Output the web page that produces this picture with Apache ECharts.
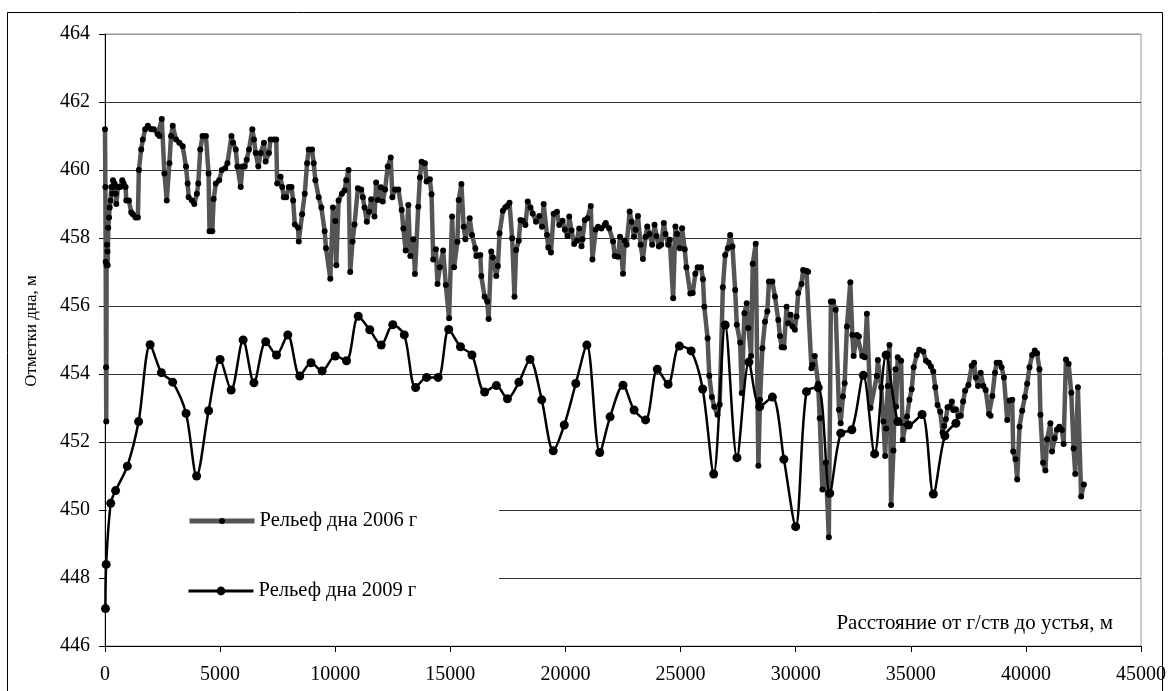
<!DOCTYPE html>
<html>
<head>
<meta charset="utf-8">
<script src="https://cdn.jsdelivr.net/npm/echarts@6/dist/echarts.min.js"></script>
<style>html,body{margin:0;padding:0;background:#fff;}#c{width:1169px;height:691px;}</style>
</head>
<body>
<div id="c"></div>
<script>
var seriesNames = ['Рельеф дна 2006 г', 'Рельеф дна 2009 г'];
var xAxisTitle = 'Расстояние от г/ств до устья, м';
var yAxisTitle = 'Отметки дна, м';
var xTicks = {min: 0, max: 45000, interval: 5000};
var yTicks = {min: 446, max: 464, interval: 2};

var relief2006 = [
[0,461.2],[15,459.5],[30,457.3],[45,454.2],[55,452.6],[70,457.2],[88,457.8],[105,457.6],[117,457.2],[140,458.3],[175,458.6],[203,458.9],[240,459.1],[275,459.5],[318,459.3],[347,459.7],[380,459.5],[419,459.6],[463,459.3],[491,459.0],[564,459.5],[664,459.5],[751,459.7],[809,459.6],[895,459.5],[924,459.1],[1039,459.1],[1140,458.75],[1212,458.7],[1327,458.6],[1428,458.6],
[1471,460.0],[1572,460.6],[1644,460.9],[1745,461.2],[1860,461.3],[2005,461.2],[2120,461.2],[2293,461.05],[2365,461.0],[2466,461.5],[2581,459.9],[2682,459.1],[2797,460.2],[2869,461.0],[2941,461.3],[3085,460.9],[3229,460.8],[3374,460.7],[3518,460.1],[3590,459.6],[3633,459.2],[3777,459.1],[3878,459.0],[3993,459.3],[4051,459.6],[4137,460.6],[4238,461.0],[4383,461.0],[4498,459.9],[4540,458.2],[4660,458.2],
[4720,459.15],[4815,459.6],[4959,459.7],[5074,460.0],[5218,460.05],[5319,460.2],[5492,461.0],[5564,460.8],[5679,460.6],[5751,460.1],[5895,459.5],[5967,460.1],[6068,460.1],[6155,460.3],[6256,460.6],[6400,461.2],[6472,460.9],[6544,460.5],[6659,460.1],[6760,460.5],[6904,460.8],[6976,460.25],[7120,460.5],[7192,460.9],[7336,460.9],[7437,460.9],[7480,459.6],[7625,459.8],[7696,459.5],[7769,459.2],[7870,459.2],[7985,459.5],[8100,459.5],[8172,459.1],[8244,458.4],[8388,458.3],[8417,457.9],[8561,458.7],[8677,459.3],[8778,460.2],[8850,460.6],[8994,460.6],[9066,460.2],[9138,459.7],[9282,459.2],[9397,458.9],[9541,458.2],[9599,457.7],[9786,456.8],[9901,458.9],[10002,458.5],[10046,457.2],[10146,459.1],[10290,459.3],[10406,459.4],[10478,459.7],[10579,460.0],[10651,457.0],[10752,457.9],[10838,458.4],[10984,459.46],[11129,459.43],
[11201,459.2],[11273,458.9],[11374,458.48],[11474,458.77],[11561,459.14],[11705,458.63],[11777,459.63],[11849,459.12],[11979,459.49],[12065,459.07],[12166,459.43],[12281,460.1],[12411,460.37],[12483,459.2],[12598,459.43],[12742,459.43],[12887,458.82],[12959,458.28],[13060,457.63],[13175,458.97],[13261,457.47],[13391,457.96],[13463,456.94],[13607,458.92],[13679,459.78],[13751,460.24],[13895,460.2],[13967,459.66],[14111,459.73],[14184,459.29],[14256,457.37],[14371,457.67],[14443,456.65],[14544,457.14],[14688,457.63],[14803,456.62],[14947,455.64],[15077,458.63],[15163,457.14],[15307,457.89],[15365,459.12],[15480,459.59],[15581,458.33],[15653,457.96],[15840,458.58],[15941,458.09],[16086,457.7],[16129,457.47],[16302,457.5],[16345,456.88],[16489,456.27],[16604,456.13],[16662,455.62],[16777,457.6],[16849,457.43],[16994,456.88],[17066,457.18],[17138,458.14],[17282,458.8],[17383,458.9],[17469,458.94],[17570,459.04],[17685,457.99],[17786,456.27],[17858,457.65],[17973,457.92],[18045,458.53],[18146,458.51],[18261,458.38],[18362,459.07],[18478,458.9],[18578,458.72],[18722,458.48],[18866,458.65],[18982,458.33],[19054,459.0],[19198,458.09],[19256,457.72],[19371,457.57],[19486,458.71],[19630,458.77],[19731,458.38],[19875,458.51],[19976,458.24],[20092,458.06],[20164,458.63],[20264,458.22],[20380,457.82],[20495,457.92],[20596,458.28],[20697,457.76],[20740,457.96],[20841,458.53],[20956,458.58],[21100,458.94],[21172,457.37],[21316,458.25],[21417,458.33],[21561,458.28],[21705,458.38],
[21751,458.44],[21895,458.29],[22068,457.9],[22140,457.47],[22284,457.45],[22371,458.04],[22501,456.95],[22573,457.93],[22659,457.8],[22789,458.78],[22875,458.48],[22976,458.04],[23048,458.24],[23149,458.65],[23264,457.8],[23365,457.38],[23480,458.04],[23553,458.34],[23653,458.12],[23769,457.8],[23870,458.39],[23956,458.06],[24057,457.75],[24158,457.8],[24273,458.44],[24345,458.12],[24460,457.8],[24532,457.95],[24677,456.23],[24777,458.34],[24849,458.12],[24965,457.7],[25066,458.29],[25181,457.67],[25253,457.14],[25424,456.37],[25527,456.38],[25642,456.95],[25743,457.14],[25887,457.14],[25973,456.79],[26031,455.98],[26175,455.05],[26247,453.95],[26362,453.32],[26463,453.04],[26607,452.8],[26700,453.1],[26838,456.55],[26939,457.5],[27054,457.7],[27155,458.09],[27255,457.75],[27371,456.47],[27443,455.45],[27587,454.93],[27659,453.44],[27774,455.79],[27875,456.08],[27947,455.35],[28063,454.53],[28135,457.24],[28265,457.83],[28380,451.3],[28452,453.24],[28553,454.76],[28668,455.54],[28769,455.84],[28841,456.72],[28985,456.72],[29101,456.28],[29245,455.59],[29317,455.12],[29389,454.79],[29490,454.78],[29606,455.98],[29678,455.49],[29779,455.74],[29864,455.4],[29965,455.3],[30037,455.69],[30109,456.38],[30253,456.65],[30325,457.06],[30469,457.04],[30541,457.01],[30685,454.17],[30729,454.27],[30830,454.53],[30974,453.71],[31046,452.7],[31161,450.6],[31305,451.4],[31440,449.2],[31530,456.13],[31622,456.13],[31737,455.89],[31881,452.95],[31953,452.55],[32054,453.34],[32127,453.73],[32227,455.4],[32373,456.7],[32460,455.15],[32518,454.53],[32661,455.15],[32747,455.1],[32892,454.53],[32994,454.49],[33094,455.77],[33250,453.0],
[33527,453.94],[33570,454.41],[33714,453.61],[33815,452.6],[33887,451.59],[33930,452.4],[34002,453.65],[34074,454.85],[34146,450.15],[34247,451.75],[34334,454.14],[34363,453.04],[34434,454.49],[34579,454.39],[34651,452.06],[34838,452.75],[34939,453.24],[35040,453.55],[35126,454.2],[35256,454.56],[35371,454.71],[35544,454.66],[35659,454.39],[35775,454.33],[35875,454.22],[35976,454.07],[36063,453.61],[36164,453.09],[36279,452.89],[36380,452.28],[36452,452.47],[36524,452.67],[36596,453.02],[36697,453.04],[36783,453.19],[36841,452.94],[36957,452.96],[37072,452.75],[37173,452.77],[37274,453.19],[37360,453.51],[37504,453.68],[37648,454.24],[37749,454.33],[37821,453.9],[37922,453.65],[38037,454.04],[38152,453.65],[38253,453.53],[38397,452.82],[38469,452.77],[38541,453.35],[38656,454.04],[38728,454.33],[38858,454.33],[38944,454.2],[39046,453.9],[39190,452.65],[39290,453.22],[39406,453.24],[39449,451.72],[39550,451.49],[39622,450.9],[39723,452.45],[39838,452.92],[39954,453.32],[40055,453.71],[40156,454.2],[40271,454.56],[40386,454.69],[40487,454.61],[40588,454.14],[40631,452.8],[40746,451.39],[40847,451.16],[40919,452.08],[41063,452.55],[41135,451.72],[41250,452.11],[41351,452.37],[41452,452.45],[41567,452.35],[41639,451.94],[41740,454.43],[41856,454.3],[41971,453.45],[42072,451.81],[42144,451.06],[42259,453.61],[42400,450.4],[42520,450.75]
];

var relief2009 = [
[20,447.1],[50,448.4],[250,450.2],[460,450.57],[970,451.29],[1460,452.6],[1960,454.86],[2450,454.04],[2940,453.76],[3520,452.84],[3980,451.0],[4500,452.92],[5000,454.43],[5480,453.53],[6000,455.0],[6470,453.74],[6980,454.95],[7450,454.56],[7940,455.15],[8460,453.94],[8950,454.33],[9430,454.09],[10000,454.53],[10490,454.39],[11000,455.7],[11500,455.3],[12000,454.85],[12500,455.45],[13000,455.15],[13490,453.6],[13970,453.9],[14470,453.9],[14930,455.31],[15440,454.8],[15940,454.56],[16490,453.47],[17000,453.66],[17480,453.27],[17980,453.76],[18460,454.43],[18970,453.24],[19470,451.74],[19950,452.5],[20450,453.72],[20930,454.85],[21490,451.69],[21940,452.74],[22500,453.67],[22980,452.94],[23480,452.65],[23990,454.14],[24460,453.7],[24950,454.82],[25460,454.68],[25960,453.56],[26440,451.06],[26940,455.44],[27450,451.54],[27970,454.35],[28440,453.04],[28990,453.32],[29490,451.49],[30000,449.51],[30470,453.48],[30980,453.6],[31480,450.49],[31960,452.26],[32440,452.36],[32940,453.96],[33430,451.65],[33930,454.56],[34440,452.6],[34900,452.5],[35490,452.81],[35980,450.47],[36480,452.18],[36960,452.55]
];

var FONT = 'Liberation Serif';
var chart = echarts.init(document.getElementById('c'), null, {renderer: 'canvas'});
var splitColors = ['#000','#333','#333','#333','#333','#333','#333','#333','#333','#999'];
var legendText = {fontFamily: FONT, fontSize: 20.5, color: '#000'};
chart.setOption({
  animation: false,
  backgroundColor: '#fff',
  grid: {left: 105, right: 23, top: 34, bottom: 45, show: true, borderColor: '#999', borderWidth: 1},
  xAxis: {
    type: 'value', min: xTicks.min, max: xTicks.max, interval: xTicks.interval,
    axisLine: {show: true, onZero: false, lineStyle: {color: '#000', width: 1}},
    axisTick: {show: true, inside: false, length: 6, lineStyle: {color: '#000'}},
    axisLabel: {fontFamily: FONT, fontSize: 20, color: '#000', margin: 19,
      formatter: function (v) { return String(v); }},
    splitLine: {show: false}
  },
  yAxis: {
    type: 'value', min: yTicks.min, max: yTicks.max, interval: yTicks.interval,
    axisLine: {show: true, lineStyle: {color: '#000', width: 1}},
    axisTick: {show: true, inside: false, length: 6, lineStyle: {color: '#000'}},
    axisLabel: {fontFamily: FONT, fontSize: 20, color: '#000', margin: 15,
      formatter: function (v) { return String(v); }},
    splitLine: {show: true, lineStyle: {color: splitColors, width: 1}}
  },
  legend: [
    {
      data: [seriesNames[0]], orient: 'vertical', left: 187, top: 510.5, padding: 0,
      itemWidth: 65, itemHeight: 7.5, itemGap: 5,
      lineStyle: {width: 5, color: '#555'},
      textStyle: legendText
    },
    {
      data: [seriesNames[1]], orient: 'vertical', left: 187, top: 580.5, padding: 0,
      itemWidth: 65, itemHeight: 11, itemGap: 5,
      lineStyle: {width: 3},
      textStyle: legendText
    }
  ],
  graphic: [
    {type: 'rect', z: 1, shape: {x: 107, y: 470, width: 392, height: 140}, style: {fill: '#fff'}},
    {type: 'rect', z: 10, shape: {x: 7.5, y: 12.5, width: 1155, height: 700}, style: {fill: 'none', stroke: '#000', lineWidth: 1}},
    {type: 'text', z: 10, style: {x: 1113, y: 623, text: xAxisTitle, textAlign: 'right', textVerticalAlign: 'middle', font: '21px "Liberation Serif"', fill: '#000'}},
    {type: 'text', z: 10, x: 32, y: 331, rotation: Math.PI / 2, style: {x: 0, y: 0, text: yAxisTitle, textAlign: 'center', textVerticalAlign: 'middle', font: '17px "Liberation Serif"', fill: '#000'}}
  ],
  series: [
    {
      name: seriesNames[0], type: 'line', data: relief2006,
      symbol: 'circle', symbolSize: 6, showAllSymbol: true,
      itemStyle: {color: '#000'},
      lineStyle: {color: '#555', width: 4.5}
    },
    {
      name: seriesNames[1], type: 'line', data: relief2009, smooth: 0.3,
      symbol: 'circle', symbolSize: 9, showAllSymbol: true,
      itemStyle: {color: '#000'},
      lineStyle: {color: '#000', width: 2.5}
    }
  ]
});
</script>
</body>
</html>
